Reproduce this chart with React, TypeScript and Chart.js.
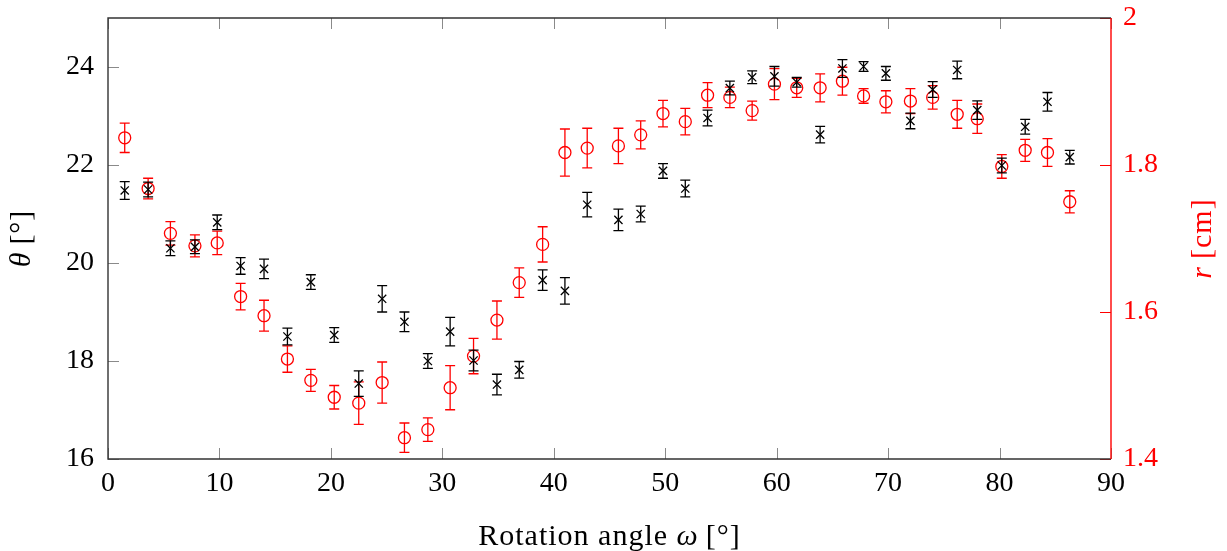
import React, { useEffect, useRef } from "react";
import { Chart, registerables } from "chart.js";
Chart.register(...registerables);

const omega = [1.5, 3.6, 5.6, 7.8, 9.8, 11.9, 14.0, 16.1, 18.2, 20.3, 22.5, 24.6, 26.6, 28.7, 30.7, 32.8, 34.9, 36.9, 39.0, 41.0, 43.0, 45.8, 47.8, 49.8, 51.8, 53.8, 55.8, 57.8, 59.8, 61.8, 63.9, 65.9, 67.8, 69.8, 72.0, 74.0, 76.2, 78.0, 80.2, 82.3, 84.3, 86.3];
const theta = [21.48, 21.5, 20.3, 20.33, 20.83, 19.94, 19.88, 18.5, 19.61, 18.53, 17.54, 19.27, 18.8, 18.0, 18.6, 18.01, 17.52, 17.82, 19.65, 19.43, 21.19, 20.88, 21.0, 21.88, 21.52, 22.96, 23.57, 23.79, 23.81, 23.69, 22.62, 23.97, 24.01, 23.87, 22.9, 23.54, 23.94, 23.12, 21.99, 22.78, 23.29, 22.16];
const thetaErr = [0.18, 0.15, 0.15, 0.14, 0.15, 0.17, 0.2, 0.17, 0.15, 0.15, 0.26, 0.27, 0.2, 0.15, 0.29, 0.21, 0.21, 0.17, 0.21, 0.27, 0.25, 0.22, 0.16, 0.15, 0.17, 0.16, 0.14, 0.13, 0.2, 0.1, 0.17, 0.18, 0.1, 0.14, 0.16, 0.16, 0.18, 0.19, 0.15, 0.15, 0.19, 0.14];
const radius = [1.837, 1.768, 1.707, 1.69, 1.694, 1.621, 1.595, 1.536, 1.507, 1.484, 1.476, 1.504, 1.429, 1.44, 1.497, 1.54, 1.589, 1.64, 1.692, 1.817, 1.823, 1.826, 1.841, 1.87, 1.859, 1.895, 1.892, 1.874, 1.91, 1.905, 1.905, 1.914, 1.894, 1.886, 1.887, 1.892, 1.869, 1.863, 1.798, 1.82, 1.817, 1.75];
const radiusErr = [0.02, 0.014, 0.016, 0.015, 0.016, 0.018, 0.021, 0.018, 0.015, 0.016, 0.029, 0.028, 0.02, 0.016, 0.03, 0.024, 0.026, 0.02, 0.024, 0.032, 0.027, 0.024, 0.019, 0.018, 0.018, 0.017, 0.014, 0.013, 0.021, 0.013, 0.019, 0.019, 0.01, 0.015, 0.017, 0.016, 0.019, 0.02, 0.016, 0.015, 0.019, 0.015];

const xTicks = [0, 10, 20, 30, 40, 50, 60, 70, 80, 90];
const thetaTicks = [16, 18, 20, 22, 24];
const rTicks = [1.4, 1.6, 1.8, 2];

const FONT = "'Liberation Serif', 'DejaVu Serif', serif";
const FS = 28;
const TFS = 30;
const RED = "#ff0000";

const errorBarPlugin = {
  id: "errorBars",
  beforeDatasetDraw(chart: any, args: any) {
    const ds = chart.data.datasets[args.index];
    const errs: number[] = ds.errors;
    if (!errs) return;
    const xs = chart.scales.x;
    const ys = chart.scales[ds.yAxisID];
    const ctx = chart.ctx;
    ctx.save();
    ctx.strokeStyle = ds.borderColor;
    ctx.lineWidth = 1.3;
    ds.data.forEach((p: any, i: number) => {
      const px = xs.getPixelForValue(p.x);
      const y1 = ys.getPixelForValue(p.y + errs[i]);
      const y2 = ys.getPixelForValue(p.y - errs[i]);
      ctx.beginPath();
      ctx.moveTo(px, y1);
      ctx.lineTo(px, y2);
      ctx.moveTo(px - 5, y1);
      ctx.lineTo(px + 5, y1);
      ctx.moveTo(px - 5, y2);
      ctx.lineTo(px + 5, y2);
      ctx.stroke();
    });
    ctx.restore();
  },
};

function drawRich(ctx: any, parts: [string, boolean][], cx: number, cy: number, rot: number) {
  ctx.save();
  ctx.translate(cx, cy);
  ctx.rotate(rot);
  try { ctx.letterSpacing = "1px"; } catch (e) {}
  const fonts = parts.map(([, it]) => `${it ? "italic " : ""}${TFS}px ${FONT}`);
  let total = 0;
  const widths = parts.map(([t], i) => {
    ctx.font = fonts[i];
    const w = ctx.measureText(t).width;
    total += w;
    return w;
  });
  let x = -total / 2;
  ctx.textBaseline = "middle";
  ctx.textAlign = "left";
  parts.forEach(([t], i) => {
    ctx.font = fonts[i];
    ctx.fillText(t, x, 0);
    x += widths[i];
  });
  ctx.restore();
}

const framePlugin = {
  id: "frame",
  afterDraw(chart: any) {
    const { ctx, chartArea: a, scales } = chart;
    const xs = scales.x, yl = scales.y, yr = scales.y2;
    ctx.save();
    const T = 11;
    ctx.lineWidth = 1;
    ctx.strokeStyle = "#8a8a8a";
    ctx.beginPath();
    xTicks.forEach((v) => {
      const px = Math.round(xs.getPixelForValue(v)) + 0.5;
      ctx.moveTo(px, a.bottom);
      ctx.lineTo(px, a.bottom - T);
      ctx.moveTo(px, a.top);
      ctx.lineTo(px, a.top + T);
    });
    thetaTicks.forEach((v) => {
      const py = Math.round(yl.getPixelForValue(v)) + 0.5;
      ctx.moveTo(a.left, py);
      ctx.lineTo(a.left + T, py);
    });
    ctx.stroke();
    ctx.strokeStyle = RED;
    ctx.beginPath();
    rTicks.forEach((v) => {
      const py = Math.round(yr.getPixelForValue(v)) + 0.5;
      ctx.moveTo(a.right, py);
      ctx.lineTo(a.right - T, py);
    });
    ctx.stroke();
    ctx.lineWidth = 1.4;
    ctx.strokeStyle = "#333";
    ctx.beginPath();
    ctx.moveTo(a.right, a.top);
    ctx.lineTo(a.left, a.top);
    ctx.lineTo(a.left, a.bottom);
    ctx.lineTo(a.right, a.bottom);
    ctx.stroke();
    ctx.strokeStyle = RED;
    ctx.beginPath();
    ctx.moveTo(a.right, a.top);
    ctx.lineTo(a.right, a.bottom);
    ctx.stroke();
    ctx.fillStyle = "#000";
    drawRich(ctx, [["Rotation angle ", false], ["ω", true], ["\u2009[°]", false]], (a.left + a.right) / 2, 537, 0);
    drawRich(ctx, [["θ", true], ["\u2009[°]", false]], 22, (a.top + a.bottom) / 2, -Math.PI / 2);
    ctx.fillStyle = RED;
    drawRich(ctx, [["r", true], ["\u2009[cm]", false]], 1203, (a.top + a.bottom) / 2, -Math.PI / 2);
    ctx.restore();
  },
};

export default function App() {
  const ref = useRef<HTMLCanvasElement>(null);
  useEffect(() => {
    if (!ref.current) return;
    const tickFont = { family: FONT, size: FS };
    const chart = new Chart(ref.current, {
      type: "scatter",
      data: {
        datasets: [
          {
            label: "theta",
            data: omega.map((x, i) => ({ x, y: theta[i] })),
            yAxisID: "y",
            pointStyle: "crossRot",
            pointRadius: 5.8,
            borderColor: "#000",
            backgroundColor: "#000",
            pointBorderWidth: 1.3,
            errors: thetaErr,
          } as any,
          {
            label: "r",
            data: omega.map((x, i) => ({ x, y: radius[i] })),
            yAxisID: "y2",
            pointStyle: "circle",
            pointRadius: 6,
            borderColor: RED,
            backgroundColor: "rgba(0,0,0,0)",
            pointBorderWidth: 1.3,
            errors: radiusErr,
          } as any,
        ],
      },
      options: {
        responsive: false,
        animation: false,
        events: [],
        layout: { padding: { top: 18, left: 0, right: 0, bottom: 0 } },
        plugins: { legend: { display: false }, tooltip: { enabled: false } },
        scales: {
          x: {
            type: "linear",
            position: "bottom",
            min: 0,
            max: 90,
            grid: { display: false, drawTicks: false },
            border: { display: false },
            afterBuildTicks: (s: any) => {
              s.ticks = xTicks.map((v) => ({ value: v }));
            },
            afterFit: (s: any) => {
              s.height = 92;
              s.paddingLeft = 0;
              s.paddingRight = 0;
            },
            ticks: { font: tickFont, color: "#000", padding: 8, maxRotation: 0, autoSkip: false, callback: (v: any) => String(v) },
          },
          y: {
            type: "linear",
            position: "left",
            min: 16,
            max: 25,
            grid: { display: false, drawTicks: false },
            border: { display: false },
            afterBuildTicks: (s: any) => {
              s.ticks = thetaTicks.map((v) => ({ value: v }));
            },
            afterFit: (s: any) => {
              s.width = 108;
              s.paddingTop = 0;
              s.paddingBottom = 0;
            },
            ticks: { font: tickFont, color: "#000", padding: 14, callback: (v: any) => String(v) },
          },
          y2: {
            type: "linear",
            position: "right",
            min: 1.4,
            max: 2,
            grid: { display: false, drawTicks: false },
            border: { display: false },
            afterBuildTicks: (s: any) => {
              s.ticks = rTicks.map((v) => ({ value: v }));
            },
            afterFit: (s: any) => {
              s.width = 116;
              s.paddingTop = 0;
              s.paddingBottom = 0;
            },
            ticks: { font: tickFont, color: RED, padding: 12, callback: (v: any) => String(v) },
          },
        },
      },
      plugins: [errorBarPlugin, framePlugin],
    } as any);
    return () => chart.destroy();
  }, []);
  return (
    <div style={{ position: "fixed", left: 0, top: 0, width: 1227, height: 551, background: "#fff" }}>
      <canvas ref={ref} width={1227} height={551} style={{ display: "block" }} />
    </div>
  );
}
